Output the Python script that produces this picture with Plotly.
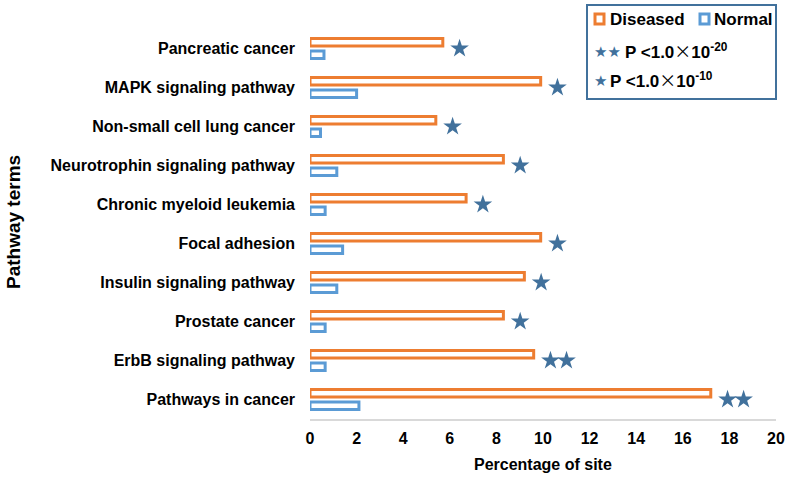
import plotly.graph_objects as go

categories = ["Pancreatic cancer", "MAPK signaling pathway", "Non-small cell lung cancer",
              "Neurotrophin signaling pathway", "Chronic myeloid leukemia", "Focal adhesion",
              "Insulin signaling pathway", "Prostate cancer", "ErbB signaling pathway",
              "Pathways in cancer"]
diseased = [5.7, 9.9, 5.4, 8.3, 6.7, 9.9, 9.2, 8.3, 9.6, 17.2]
normal = [0.6, 2.0, 0.45, 1.15, 0.65, 1.4, 1.15, 0.65, 0.65, 2.1]
stars = [1, 1, 1, 1, 1, 1, 1, 1, 2, 2]
x_ticks = list(range(0, 21, 2))

ORANGE = "#ED7D31"
BLUE = "#5B9BD5"
STAR = "#41719C"
FONT = "Liberation Sans, Arial, sans-serif"

W, H = 788, 477
ML, MR, MT, MB = 310, 12, 29, 58
PW, PH = W - ML - MR, H - MT - MB


def px(x):
    return (x - ML) / PW


def py(y):
    return (H - MB - y) / PH


fig = go.Figure()
fig.add_trace(go.Bar(y=categories, x=diseased, orientation="h", name="Diseased",
                     marker=dict(color="white", line=dict(color=ORANGE, width=3))))
fig.add_trace(go.Bar(y=categories, x=normal, orientation="h", name="Normal",
                     marker=dict(color="white", line=dict(color=BLUE, width=3))))

sx, sy = [], []
for c, d, n in zip(categories, diseased, stars):
    for k in range(n):
        sx.append(d + 0.72 + 0.69 * k)
        sy.append(c)
fig.add_trace(go.Scatter(x=sx, y=sy, mode="markers",
                         marker=dict(symbol="star", size=14, color=STAR,
                                     line=dict(width=0)),
                         showlegend=False))

fig.update_layout(
    width=W, height=H, autosize=False,
    margin=dict(l=ML, r=MR, t=MT, b=MB, autoexpand=False),
    paper_bgcolor="white", plot_bgcolor="white",
    barmode="group", bargap=0.36, bargroupgap=0.4,
    showlegend=False,
    font=dict(family=FONT, size=16, color="black", weight="bold"),
    xaxis=dict(range=[0, 20], tickvals=x_ticks, ticktext=[str(v) for v in x_ticks],
               showgrid=False, zeroline=False, showline=True, linecolor="#D9D9D9",
               linewidth=1.5, ticks="", ticklabelstandoff=4, automargin=False,
               tickfont=dict(family=FONT, size=16, weight="bold", color="black")),
    yaxis=dict(categoryorder="array", categoryarray=categories,
               range=[len(categories) - 0.5, -0.5], automargin=False,
               showgrid=False, zeroline=False, showline=False, ticks="",
               ticklabelstandoff=14,
               tickfont=dict(family=FONT, size=16, weight="bold", color="black")),
)

ann = []
ann.append(dict(text="Percentage of site", x=px(543), y=py(464), xref="paper", yref="paper",
                xanchor="center", yanchor="middle",
                showarrow=False, font=dict(family=FONT, size=16, weight="bold", color="black")))
ann.append(dict(text="Pathway terms", x=px(13), y=py(222), xref="paper", yref="paper",
                xanchor="center", yanchor="middle",
                textangle=-90, showarrow=False,
                font=dict(family=FONT, size=19, weight="bold", color="black")))

# Legend box
fig.add_shape(type="rect", xref="paper", yref="paper",
              x0=px(587), x1=px(776), y0=py(99), y1=py(5),
              line=dict(color=STAR, width=2), fillcolor="white")
fig.add_shape(type="rect", xref="paper", yref="paper",
              x0=px(595), x1=px(604), y0=py(24), y1=py(14),
              line=dict(color=ORANGE, width=3), fillcolor="white")
fig.add_shape(type="rect", xref="paper", yref="paper",
              x0=px(700), x1=px(709), y0=py(24), y1=py(14),
              line=dict(color=BLUE, width=3), fillcolor="white")
lf = dict(family=FONT, size=17, weight="bold", color="black")
ann.append(dict(text="Diseased", x=px(608), y=py(19), xref="paper", yref="paper",
                xanchor="left", yanchor="middle", showarrow=False, font=lf))
ann.append(dict(text="Normal", x=px(712), y=py(19), xref="paper", yref="paper",
                xanchor="left", yanchor="middle", showarrow=False, font=lf))
xs = "<span style='font-family:Noto Sans CJK SC;font-weight:normal'>×</span>"
ann.append(dict(text="★★", x=px(592), y=py(52), xref="paper", yref="paper",
                xanchor="left", yanchor="middle", showarrow=False,
                font=dict(family="DejaVu Sans", size=15, color=STAR)))
ann.append(dict(text="P <1.0" + xs + "10<sup>-20</sup>", x=px(623), y=py(50),
                xref="paper", yref="paper", xanchor="left", yanchor="middle",
                showarrow=False, font=lf))
ann.append(dict(text="★", x=px(592), y=py(81), xref="paper", yref="paper",
                xanchor="left", yanchor="middle", showarrow=False,
                font=dict(family="DejaVu Sans", size=15, color=STAR)))
ann.append(dict(text="P <1.0" + xs + "10<sup>-10</sup>", x=px(608), y=py(79),
                xref="paper", yref="paper", xanchor="left", yanchor="middle",
                showarrow=False, font=lf))
fig.update_layout(annotations=ann)

fig.write_html("out.html", config={"displayModeBar": False},
               post_script="document.body.style.margin='0';document.body.style.overflow='hidden';")
